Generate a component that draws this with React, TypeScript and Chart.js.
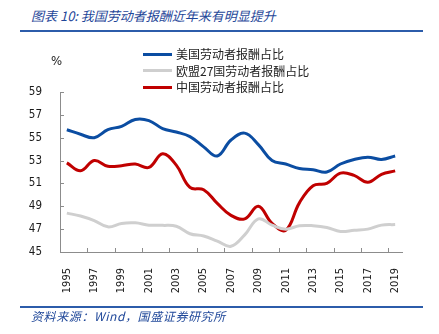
import React, { useEffect, useRef } from "react";
import { Chart, registerables } from "chart.js";

Chart.register(...registerables);

const years = [
  "1995", "1996", "1997", "1998", "1999", "2000", "2001", "2002", "2003", "2004",
  "2005", "2006", "2007", "2008", "2009", "2010", "2011", "2012", "2013", "2014",
  "2015", "2016", "2017", "2018", "2019",
];

const usShare = [
  55.7, 55.3, 55.0, 55.7, 56.0, 56.6, 56.5, 55.8, 55.5, 55.1,
  54.2, 53.4, 54.8, 55.4, 54.4, 53.0, 52.7, 52.3, 52.2, 52.0,
  52.7, 53.1, 53.3, 53.1, 53.4,
];

const eu27Share = [
  48.4, 48.15, 47.75, 47.2, 47.5, 47.55, 47.35, 47.33, 47.25, 46.6,
  46.4, 45.95, 45.5, 46.5, 47.9, 47.35, 47.0, 47.3, 47.3, 47.15,
  46.8, 46.9, 47.0, 47.35, 47.4,
];

const chinaShare = [
  52.8, 52.1, 53.0, 52.5, 52.55, 52.7, 52.4, 53.6, 52.6, 50.65,
  50.45, 49.25, 48.2, 47.9, 49.0, 47.5, 46.9, 49.3, 50.8, 51.0,
  51.9, 51.7, 51.1, 51.8, 52.1,
];

const seriesNames = ["美国劳动者报酬占比", "欧盟27国劳动者报酬占比", "中国劳动者报酬占比"];
const seriesColors = ["#0b4da2", "#cfcfcf", "#c00000"];

const yTicks = [45, 47, 49, 51, 53, 55, 57, 59];

const titleText = "图表 10:  我国劳动者报酬近年来有明显提升";
const sourceText = "资料来源：Wind，国盛证券研究所";

const tickFont = '"DejaVu Sans Condensed", "DejaVu Sans", sans-serif';
const cjkFont = '"Noto Sans CJK SC", "Noto Sans", sans-serif';

const innerTicks = {
  id: "innerTicks",
  afterDraw(chart: any) {
    const { ctx } = chart;
    const x = chart.scales.x;
    const y = chart.scales.y;
    ctx.save();
    ctx.strokeStyle = "#8c8c8c";
    ctx.lineWidth = 1;
    ctx.beginPath();
    for (const v of yTicks) {
      const py = Math.round(y.getPixelForValue(v)) + 0.5;
      ctx.moveTo(x.left, py);
      ctx.lineTo(x.left + 4, py);
    }
    for (let i = 2; i < years.length; i += 2) {
      const px = Math.round((x.getPixelForValue(i - 1) + x.getPixelForValue(i)) / 2) + 0.5;
      ctx.moveTo(px, y.bottom);
      ctx.lineTo(px, y.bottom - 4);
    }
    ctx.stroke();
    ctx.restore();
  },
};

export default function App() {
  const ref = useRef<HTMLCanvasElement | null>(null);

  useEffect(() => {
    if (!ref.current) return;
    const chart = new Chart(ref.current, {
      type: "line",
      data: {
        labels: years,
        datasets: [
          { label: seriesNames[1], data: eu27Share, borderColor: seriesColors[1], borderWidth: 3, pointRadius: 0, tension: 0.4, fill: false },
          { label: seriesNames[2], data: chinaShare, borderColor: seriesColors[2], borderWidth: 3, pointRadius: 0, tension: 0.4, fill: false },
          { label: seriesNames[0], data: usShare, borderColor: seriesColors[0], borderWidth: 3, pointRadius: 0, tension: 0.4, fill: false },
        ],
      },
      options: {
        animation: false,
        responsive: false,
        maintainAspectRatio: false,
        layout: { padding: { top: 92, right: 37, left: 0, bottom: 0 } },
        plugins: { legend: { display: false }, tooltip: { enabled: false }, title: { display: false } },
        scales: {
          x: {
            type: "category",
            offset: true,
            grid: { display: false },
            border: { display: true, color: "#8c8c8c", width: 1 },
            ticks: {
              autoSkip: false,
              minRotation: 90,
              maxRotation: 90,
              padding: 8,
              color: "#1a1a1a",
              font: { family: tickFont, size: 11 },
              callback: (_v: any, i: number) => (i % 2 === 0 ? years[i] : ""),
            },
            afterFit: (s: any) => { s.height = 82; },
          },
          y: {
            min: 45,
            max: 59,
            grid: { display: false },
            border: { display: true, color: "#8c8c8c", width: 1 },
            ticks: {
              stepSize: 2,
              padding: 10,
              color: "#1a1a1a",
              font: { family: tickFont, size: 11.5 },
            },
            afterFit: (s: any) => { s.width = 60; },
          },
        },
      },
      plugins: [innerTicks],
    });
    return () => chart.destroy();
  }, []);

  const legendRows = [0, 1, 2].map((i) => (
    <div key={i} style={{ position: "absolute", left: 143, top: 46 + i * 16.5, height: 16, display: "flex", alignItems: "center" }}>
      <div style={{ width: 29, height: 3, background: seriesColors[i] }} />
      <span style={{ marginLeft: 4, fontFamily: cjkFont, fontSize: 12, color: "#222", lineHeight: "16px", whiteSpace: "nowrap" }}>{seriesNames[i]}</span>
    </div>
  ));

  return (
    <div style={{ position: "fixed", left: 0, top: 0, width: 439, height: 334, background: "#fff", overflow: "hidden" }}>
      <div style={{ position: "absolute", left: 31, top: 7, fontFamily: cjkFont, fontStyle: "italic", fontSize: 13, lineHeight: "18px", color: "#1f4799", whiteSpace: "nowrap" }}>{titleText}</div>
      <div style={{ position: "absolute", left: 20, top: 30, width: 403, height: 2, background: "#2c5caa" }} />
      <canvas ref={ref} width={439} height={334} style={{ position: "absolute", left: 0, top: 0, width: 439, height: 334 }} />
      {legendRows}
      <div style={{ position: "absolute", left: 51, top: 52, fontFamily: tickFont, fontSize: 13, lineHeight: "18px", color: "#1a1a1a" }}>%</div>
      <div style={{ position: "absolute", left: 20, top: 306, width: 403, height: 2, background: "#2c5caa" }} />
      <div style={{ position: "absolute", left: 31, top: 308, fontFamily: cjkFont, fontStyle: "italic", fontSize: 12, letterSpacing: 0.6, lineHeight: "16px", color: "#1f4799", whiteSpace: "nowrap" }}>{sourceText}</div>
    </div>
  );
}
